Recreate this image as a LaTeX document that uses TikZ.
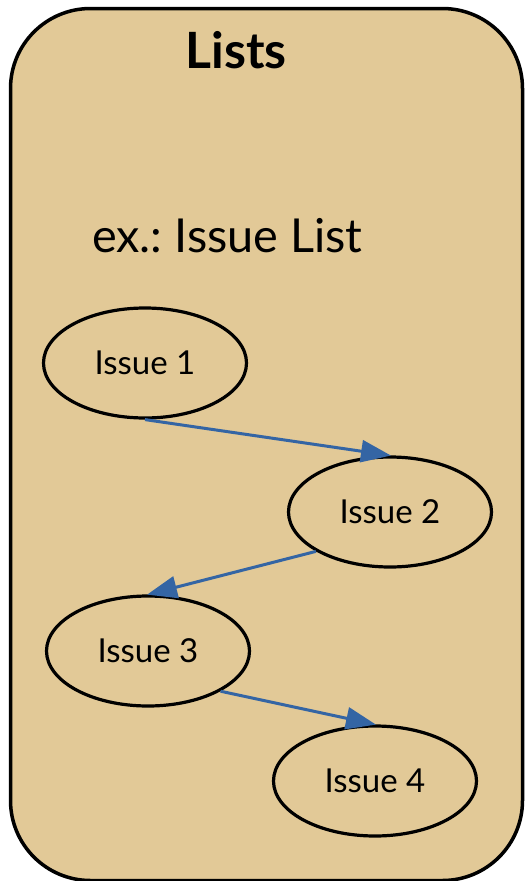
\documentclass[tikz,border=0pt]{standalone}
\usepackage{fontspec}
\setmainfont{Lato}
\usetikzlibrary{shapes.geometric,arrows.meta}
\definecolor{tan}{RGB}{226,201,151}
\definecolor{edgeblue}{RGB}{52,101,164}
\tikzset{
  issue/.style={ellipse, draw=black, line width=3.2pt, minimum width=203pt, minimum height=110pt, inner sep=0pt, font=\fontsize{33}{36}\selectfont},
  link/.style={draw=edgeblue, line width=3pt, -{Triangle[length=30pt,width=22pt]}, shorten >=-1pt},
  frame/.style={draw=black, line width=3.5pt, fill=tan, rounded corners=80pt}
}
\frenchspacing
\begin{document}
\begin{tikzpicture}[x=1pt,y=-1pt]
\useasboundingbox (0,0) rectangle (526,881);
\path[frame] (10.5,8.5) rectangle (522.5,880.5);
\node[anchor=base, font=\fontsize{50}{52}\selectfont\bfseries] (title) at (236,68) {Lists};
\node[anchor=base west, inner sep=0pt, font=\fontsize{46.8}{50}\selectfont] (sub) at (92,252) {ex.: Issue List};
\node[issue] (i1) at (145,363) {Issue 1};
\node[issue] (i2) at (390,512) {Issue 2};
\node[issue] (i3) at (148,651) {Issue 3};
\node[issue] (i4) at (375,781) {Issue 4};
\draw[link] (i1.south) -- (i2.north);
\draw[link] (i2.208) -- (i3.north);
\draw[link] (i3.331) -- (i4.north);
\end{tikzpicture}
\end{document}
